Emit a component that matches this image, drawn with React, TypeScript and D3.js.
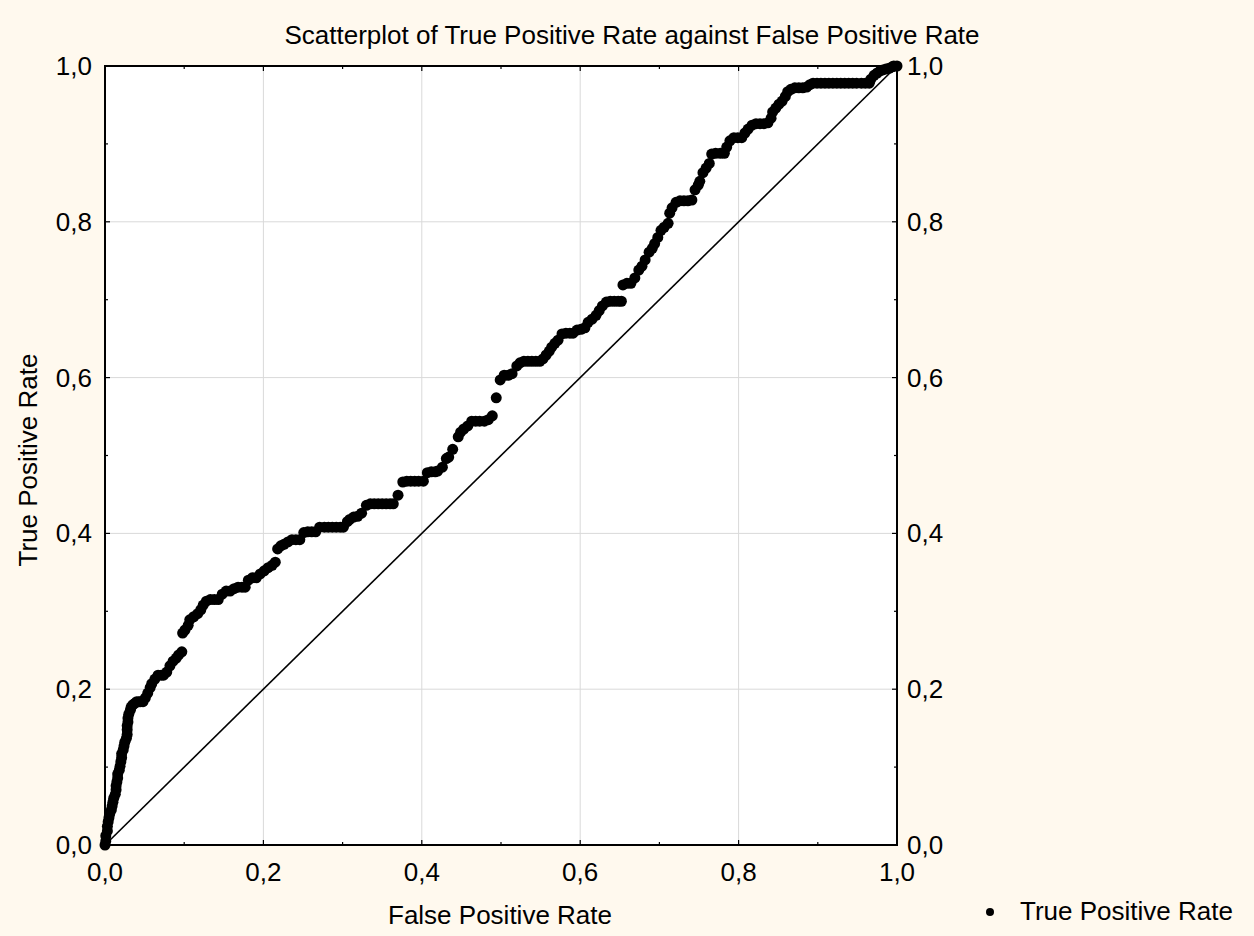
import React from "react";
import * as d3 from "d3";

const title = "Scatterplot of True Positive Rate against False Positive Rate";
const xTitle = "False Positive Rate";
const yTitle = "True Positive Rate";
const seriesName = "True Positive Rate";

const majorTicks = [0, 0.2, 0.4, 0.6, 0.8, 1.0];
const minorTicks = [0.1, 0.3, 0.5, 0.7, 0.9];
const tickLabels = ["0,0", "0,2", "0,4", "0,6", "0,8", "1,0"];

const fpr = [
  0.000, 0.001, 0.001, 0.003, 0.003, 0.004, 0.005, 0.006, 0.008, 0.009, 0.010, 0.011, 0.013, 0.014, 0.014,
  0.015, 0.016, 0.016, 0.018, 0.019, 0.020, 0.021, 0.021, 0.023, 0.024, 0.025, 0.027, 0.028, 0.028, 0.028,
  0.029, 0.029, 0.030, 0.032, 0.033, 0.035, 0.038, 0.040, 0.043, 0.045, 0.048, 0.051, 0.054, 0.057, 0.059,
  0.063, 0.067, 0.071, 0.074, 0.078, 0.082, 0.086, 0.090, 0.093, 0.097,
  0.098, 0.101, 0.105, 0.107, 0.112, 0.117, 0.121, 0.124, 0.128, 0.133, 0.138, 0.143, 0.148, 0.153, 0.158,
  0.163, 0.168, 0.173, 0.177, 0.181, 0.186, 0.191, 0.196, 0.201, 0.206, 0.211, 0.215, 0.218, 0.222, 0.226,
  0.231, 0.236, 0.241, 0.246, 0.251, 0.256, 0.261, 0.266, 0.271, 0.277, 0.282, 0.287, 0.292, 0.297, 0.301,
  0.306, 0.309, 0.314, 0.319, 0.324, 0.330, 0.335, 0.340, 0.345, 0.350, 0.355, 0.360, 0.364, 0.370, 0.376,
  0.381, 0.386, 0.391, 0.396, 0.402, 0.407, 0.412, 0.417, 0.420, 0.426, 0.431, 0.434, 0.439, 0.446, 0.449,
  0.453, 0.458, 0.463, 0.468, 0.473, 0.479, 0.484, 0.489, 0.494, 0.499, 0.504, 0.509, 0.514, 0.520, 0.524,
  0.529, 0.534, 0.539, 0.544, 0.549, 0.553, 0.557, 0.561, 0.564, 0.568, 0.572, 0.577, 0.582, 0.587, 0.591,
  0.596, 0.601, 0.606, 0.610, 0.615, 0.620, 0.624, 0.628, 0.633, 0.638, 0.643, 0.648, 0.652, 0.654, 0.659,
  0.664, 0.669, 0.674, 0.678, 0.682, 0.687, 0.691, 0.694, 0.698, 0.702, 0.706, 0.711, 0.713, 0.716, 0.721,
  0.726, 0.731, 0.736, 0.741, 0.745, 0.749, 0.751, 0.755, 0.759, 0.763, 0.766, 0.771, 0.777, 0.782, 0.785,
  0.789, 0.794, 0.799, 0.804, 0.808, 0.812, 0.817, 0.822, 0.827, 0.832, 0.837, 0.841, 0.843, 0.847, 0.851,
  0.855, 0.859, 0.862, 0.866, 0.871, 0.876, 0.881, 0.886, 0.890, 0.894, 0.899, 0.904, 0.909, 0.914, 0.919,
  0.924, 0.929, 0.934, 0.939, 0.944, 0.949, 0.955, 0.960, 0.965, 0.967, 0.971, 0.975, 0.979, 0.982, 0.986,
  0.990, 0.994, 0.996, 1.000,
];

const tpr = [
  0.000, 0.005, 0.012, 0.018, 0.024, 0.030, 0.035, 0.040, 0.045, 0.050, 0.055, 0.060, 0.065, 0.071, 0.076,
  0.081, 0.086, 0.091, 0.096, 0.101, 0.107, 0.112, 0.117, 0.122, 0.127, 0.132, 0.137, 0.142, 0.148, 0.153,
  0.158, 0.163, 0.168, 0.173, 0.177, 0.180, 0.182, 0.184, 0.184, 0.184, 0.184, 0.189, 0.195, 0.202, 0.207,
  0.213, 0.218, 0.218, 0.218, 0.222, 0.230, 0.236, 0.240, 0.244, 0.248,
  0.272, 0.276, 0.282, 0.289, 0.293, 0.297, 0.302, 0.308, 0.313, 0.315, 0.315, 0.315, 0.322, 0.326, 0.326,
  0.329, 0.331, 0.331, 0.331, 0.340, 0.343, 0.343, 0.348, 0.352, 0.356, 0.359, 0.363, 0.380, 0.384, 0.386,
  0.389, 0.392, 0.392, 0.392, 0.401, 0.402, 0.402, 0.402, 0.408, 0.408, 0.408, 0.408, 0.408, 0.408, 0.408,
  0.415, 0.418, 0.421, 0.422, 0.426, 0.436, 0.438, 0.438, 0.438, 0.438, 0.438, 0.438, 0.438, 0.449, 0.466,
  0.467, 0.467, 0.467, 0.467, 0.467, 0.478, 0.479, 0.479, 0.480, 0.485, 0.496, 0.498, 0.508, 0.524, 0.530,
  0.534, 0.538, 0.544, 0.544, 0.544, 0.544, 0.546, 0.551, 0.574, 0.597, 0.603, 0.603, 0.605, 0.615, 0.619,
  0.621, 0.621, 0.621, 0.621, 0.621, 0.624, 0.629, 0.634, 0.639, 0.644, 0.648, 0.656, 0.657, 0.657, 0.657,
  0.661, 0.662, 0.664, 0.671, 0.675, 0.680, 0.686, 0.692, 0.697, 0.698, 0.698, 0.698, 0.698, 0.719, 0.721,
  0.721, 0.728, 0.738, 0.743, 0.751, 0.761, 0.766, 0.772, 0.780, 0.789, 0.793, 0.798, 0.811, 0.818, 0.825,
  0.827, 0.827, 0.827, 0.828, 0.841, 0.847, 0.852, 0.863, 0.869, 0.875, 0.887, 0.888, 0.888, 0.888, 0.896,
  0.904, 0.908, 0.908, 0.908, 0.914, 0.919, 0.924, 0.926, 0.926, 0.926, 0.927, 0.933, 0.941, 0.946, 0.951,
  0.955, 0.961, 0.967, 0.970, 0.972, 0.972, 0.972, 0.973, 0.976, 0.978, 0.978, 0.978, 0.978, 0.978, 0.978,
  0.978, 0.978, 0.978, 0.978, 0.978, 0.978, 0.978, 0.978, 0.978, 0.983, 0.988, 0.991, 0.994, 0.995, 0.996,
  0.997, 0.999, 1.000, 1.000,
];

const W = 1254;
const H = 936;
const L = 105, R = 897, T = 66, B = 845;
const FONT = "'Liberation Sans', Arial, sans-serif";
const BG = "#FFF9EE";
const FS = 26;

export default function App() {
  const x = d3.scaleLinear().domain([0, 1]).range([L, R]);
  const y = d3.scaleLinear().domain([0, 1]).range([B, T]);
  const points = fpr.map((v, i) => [v, tpr[i]] as [number, number]);
  const diag = d3.line<[number, number]>().x((d) => x(d[0])).y((d) => y(d[1]));

  return (
    <svg
      width={W}
      height={H}
      style={{ position: "absolute", left: 0, top: 0, display: "block" }}
      fontFamily={FONT}
    >
      <rect x={0} y={0} width={W} height={H} fill={BG} />
      <rect x={L} y={T} width={R - L} height={B - T} fill="#ffffff" />
      {majorTicks.slice(1, -1).map((t) => (
        <g key={"g" + t}>
          <line x1={x(t)} x2={x(t)} y1={T} y2={B} stroke="#d9d9d9" strokeWidth={1} />
          <line x1={L} x2={R} y1={y(t)} y2={y(t)} stroke="#d9d9d9" strokeWidth={1} />
        </g>
      ))}
      <path d={diag([[0, 0], [1, 1]]) || ""} stroke="#000" strokeWidth={1.6} fill="none" />
      {points.map((p, i) => (
        <circle key={i} cx={x(p[0])} cy={y(p[1])} r={5.5} fill="#000" />
      ))}
      {majorTicks.map((t) => (
        <g key={"mt" + t} stroke="#000" strokeWidth={1.2}>
          <line x1={x(t)} x2={x(t)} y1={B} y2={B - 5} />
          <line x1={x(t)} x2={x(t)} y1={T} y2={T + 5} />
          <line x1={L} x2={L + 5} y1={y(t)} y2={y(t)} />
          <line x1={R} x2={R - 5} y1={y(t)} y2={y(t)} />
        </g>
      ))}
      {minorTicks.map((t) => (
        <g key={"nt" + t} stroke="#000" strokeWidth={1.2}>
          <line x1={x(t)} x2={x(t)} y1={B} y2={B - 3} />
          <line x1={x(t)} x2={x(t)} y1={T} y2={T + 3} />
          <line x1={L} x2={L + 3} y1={y(t)} y2={y(t)} />
          <line x1={R} x2={R - 3} y1={y(t)} y2={y(t)} />
        </g>
      ))}
      <rect x={L} y={T} width={R - L} height={B - T} fill="none" stroke="#000" strokeWidth={2} />
      {majorTicks.map((t, i) => (
        <g key={"lb" + t} fontSize={FS} fill="#000">
          <text x={L - 13} y={y(t)} textAnchor="end" dominantBaseline="central">
            {tickLabels[i]}
          </text>
          <text x={R + 10} y={y(t)} textAnchor="start" dominantBaseline="central">
            {tickLabels[i]}
          </text>
          <text x={x(t)} y={B + 27} textAnchor="middle" dominantBaseline="central">
            {tickLabels[i]}
          </text>
        </g>
      ))}
      <text x={632} y={35} textAnchor="middle" dominantBaseline="central" fontSize={FS}>
        {title}
      </text>
      <text x={500} y={915} textAnchor="middle" dominantBaseline="central" fontSize={FS}>
        {xTitle}
      </text>
      <text
        transform={`translate(28,460) rotate(-90)`}
        textAnchor="middle"
        dominantBaseline="central"
        fontSize={FS}
      >
        {yTitle}
      </text>
      <circle cx={990} cy={912} r={4} fill="#000" />
      <text x={1020} y={911} dominantBaseline="central" fontSize={FS}>
        {seriesName}
      </text>
    </svg>
  );
}
